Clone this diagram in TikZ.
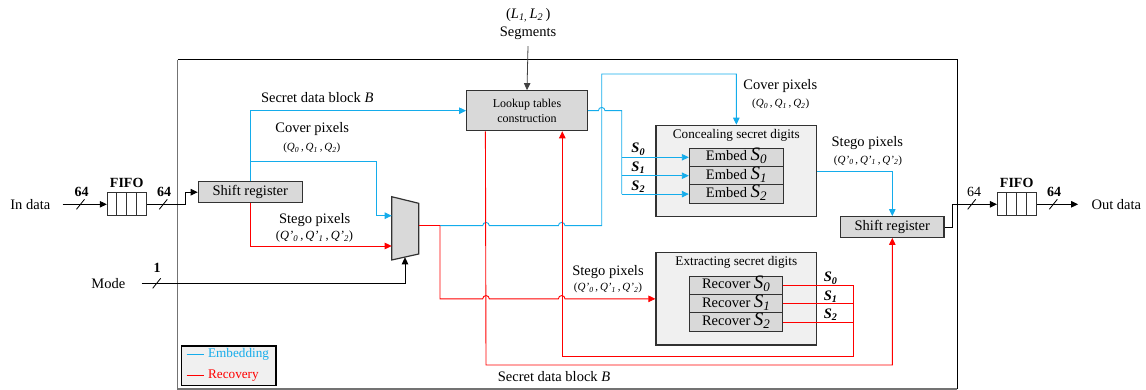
\documentclass[tikz,border=0pt]{standalone}
\usepackage{fontspec}
\setmainfont{Liberation Serif}
\usetikzlibrary{arrows.meta,calc}
\definecolor{emb}{RGB}{20,172,235}
\definecolor{rec}{RGB}{255,0,0}
\definecolor{boxgray}{RGB}{217,217,217}
\definecolor{panelgray}{RGB}{240,240,240}
\definecolor{edge}{RGB}{50,50,50}
\newcommand{\Qs}[1]{\textit{Q}\textsubscript{\textit{#1}}}
\newcommand{\Qps}[1]{\textit{Q’}\textsubscript{\textit{#1}}}
\newcommand{\Sbig}[1]{{\fontsize{19}{19}\selectfont\textit{S}}\raisebox{-3pt}{\fontsize{13}{13}\selectfont\textit{#1}}}
\newcommand{\Sb}[1]{\textbf{\textit{S}\textsubscript{\textit{#1}}}}
\begin{document}
\begin{tikzpicture}[x=1pt,y=-1pt,line width=0.9pt,
  >={Triangle[length=7pt,width=6.5pt]},
  font=\fontsize{14.5}{16}\selectfont,
  every node/.style={inner sep=0pt},
  box/.style={draw=edge,line width=1.2pt,fill=boxgray,align=center},
  panelbox/.style={draw=edge,line width=1.2pt,fill=panelgray},
  rowbox/.style={draw=edge,line width=1pt,fill=boxgray,minimum height=18.4pt,text height=11pt,text depth=4pt},
  fifobox/.style={draw=edge,line width=1.1pt,fill=white,minimum width=38.7pt,minimum height=23.3pt},
  bl/.style={color=emb,line width=0.9pt},
  rd/.style={color=rec,line width=0.9pt},
  small/.style={font=\fontsize{11}{13}\selectfont},
  mid/.style={font=\fontsize{13.2}{15}\selectfont},
  bus/.style={line width=0.8pt}
]
\useasboundingbox (0,0) rectangle (1146,390);

% frame
\draw[black!55,line width=1.3pt] (177.7,60) -- (177.7,389) -- (957.3,389);
\draw[black,line width=1pt] (177.7,60) -- (957.3,60) -- (957.3,389);

% ---------- nodes ----------
\node (indata) at (30.3,204.3) {In data};
\node[fifobox] (fifo1) at (126.7,204.3) {};
\foreach \f in {0.25,0.5,0.75}
  \draw[edge,line width=0.9pt] ($(fifo1.north west)!\f!(fifo1.north east)$) -- ($(fifo1.south west)!\f!(fifo1.south east)$);
\node[font=\fontsize{14}{16}\selectfont\bfseries] (fifol1) at (126.7,183.3) {FIFO};
\node[font=\fontsize{14}{16}\selectfont\bfseries] (w1) at (81.7,191.7) {64};
\node[font=\fontsize{14}{16}\selectfont\bfseries] (w2) at (164,191.7) {64};

\node[box,minimum width=104pt,minimum height=21pt] (sr1) at (250.3,192.2) {Shift register};
\node[box,minimum width=120.6pt,minimum height=40pt,font=\fontsize{12}{15}\selectfont] (lut) at (527,110.7) {Lookup tables\\construction};

\node (seg) at (528,33.3) {Segments};
\node (ll) at (528.3,15) {(\textit{L}\textsubscript{\textit{1,}}\,\textit{L}\textsubscript{\textit{2}}\,)};

\node (mode) at (108.3,283.3) {Mode};
\node[font=\fontsize{14}{16}\selectfont\bfseries] (w3) at (157,268.3) {1};

% mux
\draw[draw=edge,line width=1.2pt,fill=boxgray] (391.7,196.7) -- (418.7,203.3) -- (418.7,254) -- (391.7,260) -- cycle;
\coordinate (muxa) at (391.7,215.7);
\coordinate (muxb) at (391.7,246);
\coordinate (muxo) at (418.7,225.7);
\coordinate (muxs) at (405,257.3);

% concealing
\node[panelbox,minimum width=160.7pt,minimum height=91.4pt] (conceal) at (736.35,171) {};
\node[mid] (conct) at (736.3,135.5) {Concealing secret digits};
\node[rowbox,minimum width=94pt] (emb0) at (736.3,157.3) {Embed \Sbig{0}};
\node[rowbox,minimum width=94pt] (emb1) at (736.3,175.7) {Embed \Sbig{1}};
\node[rowbox,minimum width=94pt] (emb2) at (736.3,194.1) {Embed \Sbig{2}};

% extracting
\node[panelbox,minimum width=160.7pt,minimum height=92.3pt] (extract) at (736.35,298.85) {};
\node[mid] (extt) at (736.3,262) {Extracting secret digits};
\node[rowbox,minimum width=93.4pt] (rec0) at (736,285.3) {Recover \Sbig{0}};
\node[rowbox,minimum width=93.4pt] (rec1) at (736,303.7) {Recover \Sbig{1}};
\node[rowbox,minimum width=93.4pt] (rec2) at (736,322.1) {Recover \Sbig{2}};

\node[box,minimum width=103.3pt,minimum height=20.6pt] (sr2) at (892.3,227) {Shift register};
\node[fifobox] (fifo2) at (1016.85,204.3) {};
\foreach \f in {0.25,0.5,0.75}
  \draw[edge,line width=0.9pt] ($(fifo2.north west)!\f!(fifo2.north east)$) -- ($(fifo2.south west)!\f!(fifo2.south east)$);
\node[font=\fontsize{14}{16}\selectfont\bfseries] (fifol2) at (1016.7,183.3) {FIFO};
\node[font=\fontsize{14}{16}\selectfont] (w4) at (974,191.7) {64};
\node[font=\fontsize{14}{16}\selectfont\bfseries] (w5) at (1054,191.7) {64};
\node (outdata) at (1116.3,204.3) {Out data};

% labels
\node (sdb1) at (317.2,97.7) {Secret data block \textit{B}};
\node (cov1) at (312.2,129.3) {Cover pixels};
\node[small] (cov1q) at (311.8,148.3) {(\Qs{0}\,,\,\Qs{1}\,,\,\Qs{2})};
\node (st1) at (314.7,220) {Stego pixels};
\node[font=\fontsize{12.5}{14}\selectfont] (st1q) at (314.5,236.7) {(\Qps{0}\,,\,\Qps{1}\,,\,\Qps{2})};
\node (cov2) at (780.3,86) {Cover pixels};
\node[small] (cov2q) at (780.7,104.3) {(\Qs{0}\,,\,\Qs{1}\,,\,\Qs{2})};
\node (st2) at (867.3,143.3) {Stego pixels};
\node[small] (st2q) at (868,160.7) {(\Qps{0}\,,\,\Qps{1}\,,\,\Qps{2})};
\node (st3) at (608,272.3) {Stego pixels};
\node[small] (st3q) at (608,288.3) {(\Qps{0}\,,\,\Qps{1}\,,\,\Qps{2})};
\node (sdb2) at (554,376.7) {Secret data block \textit{B}};
\node (s0a) at (638.3,149.3) {\Sb{0}};
\node (s1a) at (638.3,167.3) {\Sb{1}};
\node (s2a) at (638.3,186.7) {\Sb{2}};
\node (s0b) at (830.7,278.3) {\Sb{0}};
\node (s1b) at (830.7,296.5) {\Sb{1}};
\node (s2b) at (830.7,315) {\Sb{2}};

% legend
\node[draw=black,line width=1.1pt,fill=panelgray,minimum width=94.3pt,minimum height=39.7pt] (legend) at (228.85,365.85) {};
\node[mid,text=emb,anchor=west] (legE) at (207.7,354) {Embedding};
\node[mid,text=rec,anchor=west] (legR) at (207.7,375.7) {Recovery};
\path[draw=emb,line width=1.2pt] (186.7,354.5) -- (204.3,354.5);
\path[draw=rec,line width=1.2pt] (186.7,375.5) -- (204.3,375.5);

% ---------- black connectors ----------
\draw[bus,->] ([xshift=12pt]indata.east) -- (fifo1.west);
\draw[bus] (80.5,204.3) ++(-4,5) -- ++(8,-10);
\draw[bus,->] (fifo1.east) -- ++(39,0) |- (sr1.west);
\draw[bus] (163.3,204.3) ++(-4,5) -- ++(8,-10);
\draw[bus,->,black!75] (seg.south) ++(0,6) -- (lut.north);
\draw[bus,->] ([xshift=16pt]mode.east) -| (muxs);
\draw[bus] (156.7,283.3) ++(-4,5) -- ++(8,-10);
\draw[bus,->] (sr2.east) -- ++(7.7,0) |- (fifo2.west);
\draw[bus] (971.7,204.3) ++(-4,5) -- ++(8,-10);
\draw[bus,->] (fifo2.east) -- ([xshift=-13pt]outdata.west);
\draw[bus] (1053.3,204.3) ++(-4,5) -- ++(8,-10);

% ---------- embedding (blue) ----------
\draw[bl,->] (sr1.north) |- (lut.west);
\coordinate (cp) at (250.3,161.7);
\draw[bl,->] (cp) -- (376.7,161.7) |- (muxa);
\coordinate (mj) at (440,225.7);
\draw[bl,->] (mj) -- (482.7,225.7) arc[start angle=180,end angle=360,radius=3.3]
   -- (558.4,225.7) arc[start angle=180,end angle=360,radius=3.3]
   -- (601.7,225.7) -- (601.7,74) -| (conceal.north);
\draw[bl] (lut.east) -- (598.4,110.7) arc[start angle=180,end angle=360,radius=3.3]
   -- (621.7,110.7) -- (621.7,194.1);
\draw[bl,->] (621.7,157.3) -- (emb0.west);
\draw[bl,->] (621.7,175.7) -- (emb1.west);
\draw[bl,->] (621.7,194.1) -- (emb2.west);
\draw[bl,->] (conceal.east) -| (sr2.north);

% ---------- recovery (red) ----------
\draw[rd,->] (sr1.south) |- (muxb);
\draw[rd] (muxo) -- (mj);
\draw[rd,->] (mj) -- (440,298.85) -- (482.7,298.85) arc[start angle=180,end angle=360,radius=3.3]
   -- (558.4,298.85) arc[start angle=180,end angle=360,radius=3.3]
   -- (extract.west);
\draw[rd,->] ([xshift=19.3pt]lut.south west) -- (486,365) -| (sr2.south);
\draw[rd] (rec0.east) -- (853.3,285.3);
\draw[rd] (rec1.east) -- (853.3,303.7);
\draw[rd] (rec2.east) -- (853.3,322.1);
\draw[rd,->] (853.3,285.3) -- (853.3,356) -| ([xshift=-25.6pt]lut.south east);
\end{tikzpicture}
\end{document}
